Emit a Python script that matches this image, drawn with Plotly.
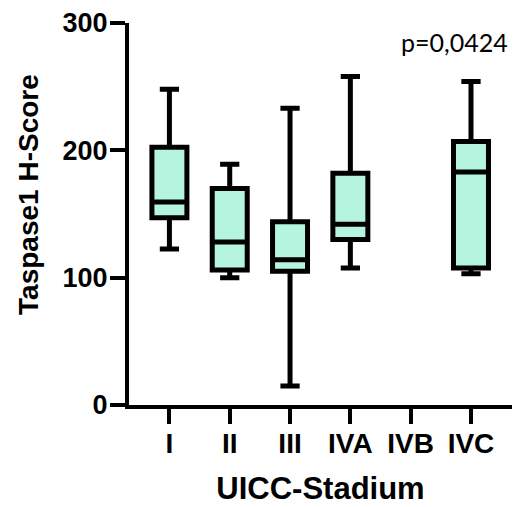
import plotly.graph_objects as go

categories = ["I", "II", "III", "IVA", "IVB", "IVC"]
lower = [122.5, 100.0, 15.0, 107.5, None, 103.0]
q1 = [147.0, 106.0, 105.0, 130.0, None, 107.5]
median = [159.5, 128.0, 114.0, 142.0, None, 183.0]
q3 = [202.5, 170.0, 144.0, 182.0, None, 207.0]
upper = [248.0, 189.0, 233.0, 258.0, None, 254.0]
y_ticks = [0, 100, 200, 300]
p_text = "p=0,0424"
x_title = "UICC-Stadium"
y_title = "Taspase1 H-Score"

fig = go.Figure()
for i, cat in enumerate(categories):
    if median[i] is None:
        continue
    fig.add_trace(go.Box(
        x=[i], q1=[q1[i]], median=[median[i]], q3=[q3[i]],
        lowerfence=[lower[i]], upperfence=[upper[i]],
        boxpoints=False, width=0.58, whiskerwidth=0.55,
        fillcolor="#b5f5df", line=dict(color="black", width=5),
        name=cat, showlegend=False, hoverinfo="skip",
    ))

bold = dict(family="Liberation Sans, Arial", color="black", weight="bold")

fig.update_layout(
    width=515, height=507,
    margin=dict(l=129, r=3, t=23, b=102),
    paper_bgcolor="white", plot_bgcolor="white",
    showlegend=False,
    xaxis=dict(
        range=[-0.67, 5.68], tickmode="array",
        tickvals=list(range(len(categories))), ticktext=categories,
        showgrid=False, zeroline=False,
        showline=True, linecolor="black", linewidth=4,
        ticks="outside", ticklen=15, tickwidth=4, tickcolor="black",
        tickfont=dict(size=28, **bold), ticklabelstandoff=-5,
        title=dict(text=x_title, font=dict(size=31, **bold), standoff=21),
    ),
    yaxis=dict(
        range=[0, 300], tickmode="array", tickvals=y_ticks,
        showgrid=False, zeroline=False,
        showline=True, linecolor="black", linewidth=4,
        ticks="outside", ticklen=15, tickwidth=4, tickcolor="black",
        tickfont=dict(size=27, **bold), ticklabelstandoff=-3,
    ),
    annotations=[
        dict(
            text=p_text, xref="paper", yref="y", x=0.995, y=285,
            xanchor="right", yanchor="middle", showarrow=False,
            font=dict(family="Lato", size=25, color="black"),
        ),
        dict(
            text=y_title, xref="paper", yref="paper", x=-0.261, y=0.55,
            xanchor="center", yanchor="middle", textangle=-90, showarrow=False,
            font=dict(size=28, **bold),
        ),
    ],
)

fig.write_html("out.html")
